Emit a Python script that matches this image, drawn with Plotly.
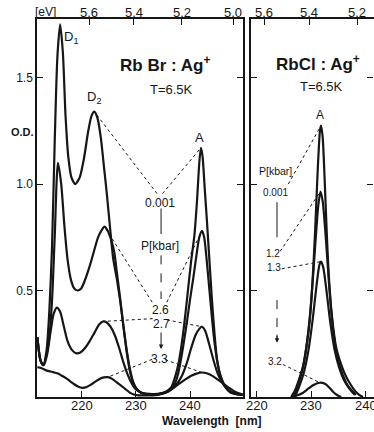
import plotly.graph_objects as go

# ---------------- RbBr:Ag+ , T = 6.5 K (left panel) ----------------
# wavelength [nm] / optical density for each pressure [kbar]
rbbr_wl_p0001 = [211.8, 212.4, 212.9, 213.5, 214.0, 214.5, 215.0, 215.5, 216.0, 216.5,
                 217.0, 217.5, 218.1, 218.8, 219.6, 220.4, 221.2, 221.8, 222.3, 222.9,
                 223.5, 224.1, 224.6, 225.2, 225.8, 226.5, 227.1, 227.7, 228.3, 228.9,
                 229.5, 230.2, 231.0, 232.5, 234.0, 235.5, 236.5, 237.3, 237.8, 238.4,
                 239.0, 239.6, 240.2, 240.8, 241.3, 241.7, 242.0, 242.3, 242.7, 243.1,
                 243.5, 244.0, 244.5, 245.0, 245.6, 246.4, 247.5, 249.7]
rbbr_od_p0001 = [0.28, 0.17, 0.15, 0.22, 0.40, 0.70, 1.20, 1.60, 1.75, 1.62,
                 1.32, 1.13, 1.03, 1.00, 1.03, 1.12, 1.25, 1.32, 1.34, 1.31,
                 1.22, 1.08, 0.96, 0.80, 0.65, 0.55, 0.45, 0.33, 0.22, 0.13,
                 0.07, 0.035, 0.02, 0.015, 0.015, 0.025, 0.045, 0.10, 0.15, 0.24,
                 0.36, 0.50, 0.64, 0.76, 0.93, 1.10, 1.17, 1.13, 0.98, 0.83,
                 0.67, 0.47, 0.30, 0.17, 0.10, 0.05, 0.02, 0.01]

rbbr_wl_p26 = [211.8, 212.4, 212.9, 213.5, 214.0, 214.5, 215.0, 215.6, 216.2, 216.8,
               217.4, 218.0, 218.6, 219.2, 219.9, 220.6, 221.4, 222.2, 223.0, 223.6,
               224.2, 224.8, 225.4, 226.0, 226.5, 227.1, 227.7, 228.3, 228.9, 229.6,
               230.4, 231.5, 233.0, 234.5, 235.7, 236.5, 237.2, 237.7, 238.2, 238.8,
               239.4, 240.0, 240.6, 241.2, 241.7, 242.2, 242.6, 243.0, 243.4, 243.9,
               244.4, 245.0, 245.6, 246.4, 247.5, 249.7]
rbbr_od_p26 = [0.28, 0.17, 0.15, 0.20, 0.28, 0.45, 0.75, 1.10, 1.00, 0.80,
               0.64, 0.55, 0.51, 0.50, 0.51, 0.55, 0.61, 0.68, 0.75, 0.78,
               0.80, 0.78, 0.74, 0.68, 0.58, 0.46, 0.33, 0.21, 0.12, 0.06,
               0.03, 0.015, 0.012, 0.015, 0.025, 0.04, 0.065, 0.10, 0.16, 0.25,
               0.35, 0.46, 0.56, 0.67, 0.75, 0.78, 0.75, 0.66, 0.55, 0.41,
               0.28, 0.17, 0.10, 0.055, 0.025, 0.01]

rbbr_wl_p27 = [211.8, 212.4, 213.0, 213.6, 214.2, 214.8, 215.4, 216.0, 216.7, 217.4,
               218.2, 219.0, 219.8, 220.6, 221.4, 222.3, 223.2, 224.0, 224.6, 225.3,
               226.1, 226.9, 227.6, 228.4, 229.2, 230.0, 231.0, 232.5, 234.0, 235.5,
               236.5, 237.5, 238.5, 239.4, 240.2, 241.0, 241.7, 242.2, 242.8, 243.5,
               244.3, 245.1, 246.0, 247.0, 248.2, 249.7]
rbbr_od_p27 = [0.28, 0.17, 0.15, 0.20, 0.30, 0.39, 0.42, 0.40, 0.33, 0.26,
               0.22, 0.205, 0.21, 0.23, 0.26, 0.30, 0.34, 0.355, 0.35, 0.33,
               0.29, 0.23, 0.17, 0.11, 0.065, 0.035, 0.02, 0.01, 0.01, 0.02,
               0.035, 0.06, 0.10, 0.16, 0.23, 0.29, 0.32, 0.33, 0.31, 0.25,
               0.175, 0.11, 0.065, 0.035, 0.015, 0.01]

rbbr_wl_p33 = [211.8, 212.6, 213.4, 214.2, 214.9, 215.6, 216.3, 217.0, 217.8, 218.6,
               219.4, 220.1, 220.9, 221.7, 222.5, 223.3, 224.1, 224.8, 225.6, 226.4,
               227.2, 228.0, 228.8, 229.6, 230.5, 232.0, 233.5, 235.0, 236.2, 237.2,
               238.2, 239.2, 240.2, 241.2, 242.2, 243.2, 244.2, 245.2, 246.2, 247.2,
               248.2, 249.7]
rbbr_od_p33 = [0.14, 0.135, 0.125, 0.12, 0.115, 0.11, 0.10, 0.09, 0.075, 0.06,
               0.048, 0.043, 0.047, 0.058, 0.072, 0.085, 0.092, 0.093, 0.085, 0.07,
               0.055, 0.038, 0.022, 0.012, 0.008, 0.008, 0.01, 0.018, 0.03, 0.048,
               0.066, 0.084, 0.10, 0.11, 0.115, 0.11, 0.098, 0.08, 0.062, 0.043,
               0.026, 0.012]

rbbr_pressures = ["0.001", "2.6", "2.7", "3.3"]

# ---------------- RbCl:Ag+ , T = 6.5 K (right panel) ----------------
rbcl_wl_p0001 = [226.3, 227.0, 227.6, 228.5, 229.2, 229.8, 230.3, 230.7, 231.2, 231.6,
                 231.8, 232.1, 232.5, 232.85, 233.3, 233.8, 234.6, 235.6, 236.5, 237.2,
                 238.0, 238.8, 239.5]
rbcl_od_p0001 = [0.0, 0.03, 0.07, 0.145, 0.25, 0.38, 0.57, 0.77, 1.07, 1.25,
                 1.275, 1.22, 1.0, 0.77, 0.54, 0.38, 0.23, 0.145, 0.09, 0.06,
                 0.03, 0.01, 0.0]

rbcl_wl_p12 = [226.8, 227.6, 228.5, 229.3, 230.0, 230.7, 231.3, 231.7, 232.1, 232.7,
               233.3, 234.0, 234.8, 235.7, 236.8, 238.2]
rbcl_od_p12 = [0.0, 0.06, 0.14, 0.27, 0.45, 0.70, 0.90, 0.965, 0.92, 0.74,
               0.52, 0.32, 0.19, 0.11, 0.05, 0.01]

rbcl_wl_p13 = [227.0, 227.8, 228.7, 229.5, 230.3, 231.0, 231.5, 231.8, 232.2, 232.8,
               233.5, 234.3, 235.1, 236.0, 237.0, 238.0]
rbcl_od_p13 = [0.0, 0.05, 0.12, 0.22, 0.37, 0.53, 0.62, 0.636, 0.61, 0.50,
               0.35, 0.22, 0.14, 0.08, 0.04, 0.01]

rbcl_wl_p32 = [226.3, 227.5, 228.5, 229.5, 230.5, 231.6, 232.5, 233.3, 234.0, 234.8, 235.5]
rbcl_od_p32 = [0.0, 0.008, 0.02, 0.04, 0.058, 0.067, 0.062, 0.045, 0.025, 0.008, 0.0]

rbcl_pressures = ["0.001", "1.2", "1.3", "3.2"]

# axis ticks
wl_ticks = [220, 230, 240]
ev_ticks_left = [5.6, 5.4, 5.2, 5.0]
ev_ticks_right = [5.6, 5.4, 5.2]
od_ticks = [0.5, 1.0, 1.5]

HC = 1239.84  # eV*nm, photon energy <-> wavelength

INK = "#161616"
FONT = "Liberation Sans, Arial, sans-serif"

W, H = 374, 432
M_TOP, M_BOT = 19, 35

X_LEFT = [211.73, 249.77]
X_RIGHT = [218.95, 241.52]
Y_RANGE = [0.0, 1.775]


def px_x(px):
    return px / W


def px_y(px):
    # paper coordinates span the plotting area between the margins
    return (H - M_BOT - px) / (H - M_TOP - M_BOT)


def peak(wl, od, lo, hi):
    best = max((i for i in range(len(wl)) if lo <= wl[i] <= hi), key=lambda i: od[i])
    return wl[best], od[best]


fig = go.Figure()


def curve(wl, od, xa, ya):
    fig.add_trace(go.Scatter(x=wl, y=od, xaxis=xa, yaxis=ya, mode="lines",
                             line=dict(color=INK, width=2.2, shape="spline", smoothing=0.7),
                             hoverinfo="skip", showlegend=False))


def guide(xs, ys, xa, ya, dash="dot", width=1):
    fig.add_trace(go.Scatter(x=xs, y=ys, xaxis=xa, yaxis=ya, mode="lines",
                             line=dict(color=INK, width=width, dash=dash),
                             hoverinfo="skip", showlegend=False))


# spectra
rbbr = [(rbbr_wl_p0001, rbbr_od_p0001), (rbbr_wl_p26, rbbr_od_p26),
        (rbbr_wl_p27, rbbr_od_p27), (rbbr_wl_p33, rbbr_od_p33)]
rbcl = [(rbcl_wl_p0001, rbcl_od_p0001), (rbcl_wl_p12, rbcl_od_p12),
        (rbcl_wl_p13, rbcl_od_p13), (rbcl_wl_p32, rbcl_od_p32)]
for wl, od in rbbr:
    curve(wl, od, "x", "y")
for wl, od in rbcl[:3]:
    curve(wl, od, "x2", "y2")
curve(rbcl[3][0], rbcl[3][1], "x2", "y3")

# dotted leader lines: pressure label -> D2 band and A band of that spectrum
rbbr_label_pos = [(234.4, 0.913), (234.6, 0.41), (234.8, 0.345), (234.4, 0.18)]
rbbr_leader_left = [(233.9, 0.955), (233.0, 0.445), (233.1, 0.368), (233.0, 0.177)]
rbbr_leader_right = [(234.9, 0.955), (235.7, 0.445), (235.7, 0.362), (235.4, 0.175)]
for k, (wl, od) in enumerate(rbbr):
    d2 = peak(wl, od, 221.5, 226.0)
    a = peak(wl, od, 238.0, 246.0)
    guide([rbbr_leader_left[k][0], d2[0]], [rbbr_leader_left[k][1], d2[1]], "x", "y")
    guide([rbbr_leader_right[k][0], a[0]], [rbbr_leader_right[k][1], a[1]],
          "x3" if k == 0 else "x", "y")

rbcl_label_pos = [(223.5, 0.96), (223.0, 0.672), (223.2, 0.606), (223.4, 0.167)]
rbcl_leader_start = [(225.8, 1.0), (224.3, 0.684), (224.6, 0.602), (224.8, 0.153)]
for k, (wl, od) in enumerate(rbcl):
    a = peak(wl, od, 228.0, 236.0)
    guide([rbcl_leader_start[k][0], a[0]], [rbcl_leader_start[k][1], a[1]],
          "x4" if k == 0 else "x2", "y2")

# pressure scale markers
guide([234.64, 234.64], [0.885, 0.765], "x", "y", dash="solid", width=1)
guide([234.64, 234.64], [0.665, 0.46], "x", "y", dash="dash", width=1)
guide([223.72, 223.72], [0.915, 0.75], "x2", "y2", dash="solid", width=1)
guide([223.72, 223.72], [0.455, 0.27], "x2", "y2", dash="dash", width=1)

ann = []


def text(x, y, s, xref, yref, size=12, **kw):
    ann.append(dict(x=x, y=y, xref=xref, yref=yref, text=s, showarrow=False,
                    xanchor="center", yanchor="middle",
                    font=dict(family=FONT, size=size, color=INK), **kw))


for (x, y), p in zip(rbbr_label_pos, rbbr_pressures):
    text(x, y, p, "x", "y", size=12)
text(234.44, 0.707, "P[kbar]", "x", "y", size=12)
for (x, y), p in zip(rbcl_label_pos, rbcl_pressures):
    text(x, y, p, "x2", "y2", size=10)
text(223.4, 1.059, "P[kbar]", "x2", "y2", size=10.5)

# band labels
d1 = peak(*rbbr[0], 214.0, 218.0)
d2 = peak(*rbbr[0], 221.0, 224.0)
a_br = peak(*rbbr[0], 238.0, 246.0)
a_cl = peak(*rbcl[0], 228.0, 236.0)
text(d1[0] + 2.0, d1[1] - 0.06, "D<sub>1</sub>", "x", "y", size=13)
text(d2[0], d2[1] + 0.065, "D<sub>2</sub>", "x", "y", size=13)
text(a_br[0] - 0.2, a_br[1] + 0.05, "A", "x", "y", size=13)
text(a_cl[0] - 0.1, a_cl[1] + 0.05, "A", "x2", "y2", size=12)

# sample titles
text(235.4, 1.562, "<b>Rb Br : Ag<sup>+</sup></b>", "x", "y", size=17)
text(236.6, 1.446, "T=6.5K", "x", "y", size=13)
text(231.25, 1.570, "<b>RbCl : Ag<sup>+</sup></b>", "x2", "y2", size=17)
text(231.8, 1.459, "T=6.5K", "x2", "y2", size=13)

# tick labels of the wavelength (bottom) and photon-energy (top) scales
for t in wl_ticks:
    text(t, px_y(406), str(t), "x", "paper", size=13)
    text(t, px_y(406), str(t), "x2", "paper", size=13)
for e in ev_ticks_left:
    text(HC / e, px_y(12.5), f"{e:.1f}", "x", "paper", size=13)
for e in ev_ticks_right:
    text(HC / e, px_y(12.5), f"{e:.1f}", "x2", "paper", size=13)

# axis captions
text(px_x(22), px_y(132), "<b>O.D.</b>", "paper", "paper", size=11)
text(px_x(45), px_y(12.5), "[eV]", "paper", "paper", size=12)
text(px_x(212), px_y(421), "<b>Wavelength  [nm]</b>", "paper", "paper", size=12)

# pressure arrows
ann.append(dict(x=234.64, y=0.225, ax=234.64, ay=0.31, xref="x", yref="y",
                axref="x", ayref="y", text="", showarrow=True, arrowhead=2,
                arrowsize=0.9, arrowwidth=1, arrowcolor=INK))
ann.append(dict(x=223.72, y=0.255, ax=223.72, ay=0.30, xref="x2", yref="y2",
                axref="x2", ayref="y2", text="", showarrow=True, arrowhead=2,
                arrowsize=0.9, arrowwidth=1, arrowcolor=INK))

axis_common = dict(showgrid=False, zeroline=False, showline=True, linecolor=INK,
                   linewidth=1.5, ticks="inside", ticklen=6, tickwidth=1.2,
                   tickcolor=INK, tickfont=dict(family=FONT, size=13, color=INK))

left_dom = [px_x(37), px_x(243)]
right_dom = [px_x(251), 1.0]

fig.update_layout(
    width=W, height=H,
    margin=dict(l=0, r=0, t=M_TOP, b=M_BOT),
    paper_bgcolor="white", plot_bgcolor="white",
    showlegend=False,
    font=dict(family=FONT, color=INK),
    annotations=ann,
    xaxis=dict(domain=left_dom, range=X_LEFT, anchor="y", tickvals=wl_ticks,
               showticklabels=False, **axis_common),
    xaxis3=dict(overlaying="x", side="top", anchor="y", range=X_LEFT,
                tickvals=[HC / e for e in ev_ticks_left], showticklabels=False,
                **axis_common),
    yaxis=dict(domain=[0, 1], range=Y_RANGE, anchor="x", mirror="ticks",
               tickvals=od_ticks, ticktext=[f"{v:.1f}" for v in od_ticks],
               **{**axis_common, "tickfont": dict(family=FONT, size=12, color=INK)}),
    xaxis2=dict(domain=right_dom, range=X_RIGHT, anchor="y2", tickvals=wl_ticks,
                showticklabels=False, **axis_common),
    xaxis4=dict(overlaying="x2", side="top", anchor="y2", range=X_RIGHT,
                tickvals=[HC / e for e in ev_ticks_right], showticklabels=False,
                **axis_common),
    yaxis2=dict(domain=[0, 1], range=Y_RANGE, anchor="x2", tickvals=od_ticks,
                showticklabels=False, **axis_common),
    yaxis3=dict(overlaying="y2", side="right", anchor="free", position=0.996,
                range=Y_RANGE, tickvals=od_ticks, showticklabels=False,
                **{**axis_common, "showline": False}),
)

fig.write_html("out.html")
